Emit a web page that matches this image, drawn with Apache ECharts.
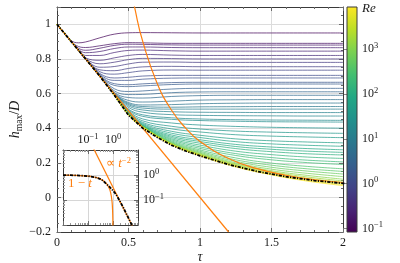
<!DOCTYPE html>
<html><head><meta charset="utf-8">
<script src="https://cdn.jsdelivr.net/npm/echarts@6/dist/echarts.min.js"></script>
<style>html,body{margin:0;padding:0;background:#fff}#c{width:400px;height:263px}</style>
</head><body><div id="c"></div>
<script>
// ---------- data ----------
const tau = [0, 0.05, 0.1, 0.15, 0.2, 0.3, 0.4, 0.5, 0.6, 0.8, 1.0, 1.25, 1.5, 1.75, 2.0];
const logRe = [-1.0,-0.85,-0.75,-0.65,-0.55,-0.45,-0.35,-0.25,-0.15,-0.05,0.05,0.15,0.25,0.35,0.45,0.55,0.65,0.75,0.85,0.95,1.02,1.1,1.18,1.27,1.33,1.43,1.53,1.62,1.72,1.82,1.92,2.0,2.08,2.17,2.27,2.37,2.5,2.62,2.75,2.9,3.05,3.2,3.4,3.6,3.8,3.95];
const hCurves = [
[1,.95,.905,.893,.898,.922,.943,.951,.952,.951,.95,.95,.95,.95,.95],
[1,.95,.9,.872,.866,.876,.888,.894,.893,.89,.89,.89,.89,.89,.89],
[1,.95,.9,.862,.85,.862,.878,.885,.884,.881,.88,.88,.88,.88,.88],
[1,.95,.9,.855,.836,.843,.86,.869,.869,.866,.865,.865,.865,.865,.865],
[1,.95,.9,.851,.82,.82,.837,.849,.851,.847,.845,.845,.845,.845,.845],
[1,.95,.9,.85,.806,.792,.806,.82,.826,.822,.82,.82,.82,.82,.82],
[1,.95,.9,.85,.801,.772,.781,.796,.803,.802,.8,.8,.8,.8,.8],
[1,.95,.9,.85,.8,.752,.756,.771,.781,.782,.78,.78,.78,.78,.78],
[1,.95,.9,.85,.8,.737,.732,.745,.754,.757,.755,.755,.755,.755,.755],
[1,.95,.9,.85,.8,.726,.712,.721,.731,.736,.735,.735,.735,.735,.735],
[1,.95,.9,.85,.8,.716,.69,.694,.701,.705,.705,.705,.705,.705,.705],
[1,.95,.9,.85,.8,.711,.676,.676,.683,.689,.69,.69,.69,.69,.69],
[1,.95,.9,.85,.8,.706,.657,.651,.656,.663,.665,.665,.665,.665,.665],
[1,.95,.9,.85,.8,.704,.647,.64,.644,.652,.655,.655,.655,.655,.655],
[1,.95,.9,.85,.8,.702,.628,.612,.615,.626,.63,.63,.63,.63,.63],
[1,.95,.9,.85,.8,.701,.616,.594,.595,.605,.609,.61,.61,.61,.61],
[1,.95,.9,.85,.8,.7,.607,.577,.574,.583,.588,.59,.59,.59,.59],
[1,.95,.9,.85,.8,.7,.603,.56,.551,.556,.562,.564,.565,.565,.565],
[1,.95,.9,.85,.8,.7,.601,.548,.534,.536,.541,.544,.545,.545,.545],
[1,.95,.9,.85,.8,.7,.6,.542,.525,.521,.523,.524,.525,.525,.525],
[1,.95,.9,.85,.8,.7,.599,.536,.516,.51,.51,.51,.51,.51,.51],
[1,.95,.9,.85,.8,.7,.598,.529,.505,.495,.492,.491,.49,.49,.49],
[1,.95,.9,.85,.8,.7,.597,.52,.492,.478,.474,.472,.471,.47,.47],
[1,.95,.9,.85,.8,.7,.596,.51,.477,.46,.453,.449,.447,.446,.445],
[1,.95,.9,.85,.8,.7,.596,.505,.468,.451,.444,.44,.437,.436,.435],
[1,.95,.9,.85,.8,.7,.595,.5,.453,.43,.418,.41,.405,.402,.4],
[1,.95,.9,.85,.8,.7,.595,.495,.442,.411,.395,.383,.377,.373,.37],
[1,.95,.9,.85,.8,.7,.594,.491,.433,.396,.378,.362,.354,.349,.345],
[1,.95,.9,.85,.8,.7,.594,.488,.427,.382,.359,.338,.327,.32,.315],
[1,.95,.9,.85,.8,.7,.594,.486,.422,.371,.346,.322,.309,.301,.295],
[1,.95,.9,.85,.8,.7,.593,.484,.418,.361,.333,.306,.291,.282,.275],
[1,.95,.9,.85,.8,.7,.593,.483,.415,.353,.323,.294,.278,.267,.26],
[1,.95,.9,.85,.8,.7,.593,.482,.413,.346,.313,.282,.264,.252,.245],
[1,.95,.9,.85,.8,.7,.593,.481,.411,.339,.302,.267,.247,.233,.225],
[1,.95,.9,.85,.8,.7,.593,.48,.41,.333,.292,.253,.23,.215,.205],
[1,.95,.9,.85,.8,.7,.593,.48,.409,.327,.283,.242,.217,.201,.19],
[1,.95,.9,.85,.8,.7,.593,.48,.408,.322,.274,.228,.198,.179,.165],
[1,.95,.9,.85,.8,.7,.593,.48,.408,.318,.267,.217,.186,.165,.15],
[1,.95,.9,.85,.8,.7,.593,.48,.408,.315,.261,.208,.174,.152,.135],
[1,.95,.9,.85,.8,.7,.593,.48,.408,.313,.256,.2,.163,.139,.12],
[1,.95,.9,.85,.8,.7,.593,.48,.408,.311,.252,.194,.154,.127,.105],
[1,.95,.9,.85,.8,.7,.593,.48,.408,.31,.249,.19,.148,.118,.095],
[1,.95,.9,.85,.8,.7,.593,.48,.408,.309,.247,.186,.143,.11,.087],
[1,.95,.9,.85,.8,.7,.593,.479,.407,.308,.245,.182,.137,.103,.08],
[1,.95,.9,.85,.8,.7,.592,.477,.405,.306,.242,.179,.133,.098,.074],
[1,.95,.9,.85,.8,.7,.591,.475,.403,.304,.24,.176,.13,.094,.068]
];
// envelope (black dash-dot)
const tEnv = [0,0.01,0.02,0.05,0.1,0.2,0.3,0.4,0.5,0.6,0.7,0.8,0.9,1.0,1.2,1.4,1.6,1.8,2.0,2.5,3,4,5,6];
const hEnv = [1,0.99,0.98,0.95,0.9,0.8,0.7,0.592,0.475,0.4,0.347,0.302,0.268,0.24,0.19,0.15,0.12,0.097,0.081,0.053,0.037,0.0205,0.013,0.009];
// orange lines in main plot
const tLin = [0, 1.2];
const hLin = [1, -0.2];
const tPow = [0.5,0.55,0.6,0.7,0.8,0.9,1.0,1.2,1.4,1.6,1.8,2.0];
const hPow = [1.29,1.07,0.9,0.66,0.505,0.4,0.323,0.225,0.166,0.128,0.102,0.086];
// inset orange lines
const tInLin = [0.01,0.1,0.2,0.3,0.4,0.5,0.6,0.7,0.8,0.9,0.95,0.98,0.99,0.995];
const hInLin = [0.99,0.9,0.8,0.7,0.6,0.5,0.4,0.3,0.2,0.1,0.05,0.02,0.01,0.005];
const tInPow = [0.17, 6];
const hInPow = [11.1, 0.0089];
// axes
const cbRange = [-1.08, 3.94];
const cbTicks = [-1, 0, 1, 2, 3];
const logMinor = [0.02,0.03,0.04,0.05,0.06,0.07,0.08,0.09,0.2,0.3,0.4,0.5,0.6,0.7,0.8,0.9,2,3,4,5,6,7,8,9];

// ---------- styling ----------
const SERIF = 'Liberation Serif';
const TXT = '#1a1a1a';
const AX = '#3a3a3a';
const TICK = '#6a6a6a';
const ORANGE = '#ff7f0e';
const DASHDOT = [3.2,1.3,1.2,1.3];
const viridis = ['#440154','#482475','#414487','#355f8d','#2a788e','#21918c','#22a884','#44bf70','#7ad151','#bddf26','#fde725'];
function hex(h){return [parseInt(h.slice(1,3),16),parseInt(h.slice(3,5),16),parseInt(h.slice(5,7),16)];}
function viridisAt(f, a){
  f = Math.max(0, Math.min(1, f));
  const s = f * 10, i = Math.min(9, Math.floor(s)), r = s - i;
  const c0 = hex(viridis[i]), c1 = hex(viridis[i+1]);
  const c = c0.map((v,k)=>Math.round(v + (c1[k]-v)*r));
  return `rgba(${c[0]},${c[1]},${c[2]},${a})`;
}
const supRich = {
  b:{fontFamily:SERIF,fontSize:12,color:TXT,lineHeight:16},
  s:{fontFamily:SERIF,fontSize:8.5,color:TXT,lineHeight:9,verticalAlign:'top'},
  i:{fontFamily:SERIF,fontSize:13,fontStyle:'italic',color:TXT,lineHeight:16}
};
function pow10Label(n){ return `{b|10}{s|${n<0?'\u2212'+Math.abs(n):n}}`; }

const series = [];
hCurves.forEach((arr, k) => {
  const f = (logRe[k] - cbRange[0]) / (cbRange[1] - cbRange[0]);
  series.push({type:'line', xAxisIndex:0, yAxisIndex:0, data: tau.map((t,j)=>[t, arr[j]]),
    symbol:'none', smooth:0.4, silent:true, z:2,
    lineStyle:{width:1, color: viridisAt(f, 0.72)}});
});
series.push({type:'line', xAxisIndex:0, yAxisIndex:0, data: tLin.map((t,j)=>[t,hLin[j]]), symbol:'none', silent:true, z:3, lineStyle:{width:1.2,color:ORANGE}});
series.push({type:'line', xAxisIndex:0, yAxisIndex:0, data: tPow.map((t,j)=>[t,hPow[j]]), symbol:'none', smooth:true, silent:true, z:3, lineStyle:{width:1.2,color:ORANGE}});
series.push({type:'line', xAxisIndex:0, yAxisIndex:0, data: tEnv.map((t,j)=>[t,hEnv[j]]), symbol:'none', smooth:false, silent:true, z:4,
  lineStyle:{width:1.8,color:'#000',type:DASHDOT}});
// colorbar
series.push({type:'custom', xAxisIndex:1, yAxisIndex:2, silent:true, z:2,
  data:[[0, cbRange[0], 1, cbRange[1]]],
  renderItem:(params, api)=>{
    const p0 = api.coord([api.value(0), api.value(1)]);
    const p1 = api.coord([api.value(2), api.value(3)]);
    return {type:'rect', shape:{x:p0[0], y:p1[1], width:p1[0]-p0[0], height:p0[1]-p1[1]},
      style:{fill:new echarts.graphic.LinearGradient(0,1,0,0, viridis.map((c,i)=>({offset:i/10,color:c}))), stroke:AX, lineWidth:1}};
  }});
// inset
const envIn = tEnv.map((t,j)=>[t,hEnv[j]]).filter(p=>p[0]>0);
series.push({type:'line', xAxisIndex:3, yAxisIndex:4, data: tInLin.map((t,j)=>[t,hInLin[j]]), symbol:'none', smooth:true, silent:true, z:6, lineStyle:{width:1.2,color:ORANGE}});
series.push({type:'line', xAxisIndex:3, yAxisIndex:4, data: tInPow.map((t,j)=>[t,hInPow[j]]), symbol:'none', silent:true, z:6, lineStyle:{width:1.2,color:ORANGE}});
series.push({type:'line', xAxisIndex:3, yAxisIndex:4, data: envIn, symbol:'none', smooth:false, silent:true, z:7, lineStyle:{width:1.8,color:'#000',type:DASHDOT}});

function fmtY(v){ const r = Number(v.toFixed(2)); if (r > 1.05) return ''; return r < 0 ? '\u2212' + Math.abs(r) : String(r); }

const mainTick = {show:true, inside:true, length:4, lineStyle:{color:TICK}};
const mainMinor = (n)=>({show:true, splitNumber:n, length:2, lineStyle:{color:TICK}});
const insetLog = {type:'log', logBase:10, min:0.01, max:10, gridIndex:2, z:3};

const option = {
  animation:false,
  grid:[
    {left:57, top:7, width:286, height:225, outerBoundsMode:'none'},
    {left:347, top:7, width:10, height:225, outerBoundsMode:'none'},
    {left:63, top:150, width:75, height:75, show:true, backgroundColor:'#fff', borderWidth:0, z:1, outerBoundsMode:'none'}
  ],
  xAxis:[
    {type:'value', gridIndex:0, min:0, max:2, interval:0.5, position:'bottom',
     axisLine:{show:true, onZero:false, lineStyle:{color:AX}}, axisTick:mainTick, minorTick:mainMinor(5),
     splitLine:{show:true, lineStyle:{color:'#dcdcdc'}},
     axisLabel:{margin:5, color:TXT, fontFamily:SERIF, fontSize:12, formatter:v=>String(Number(v.toFixed(2)))},
     name:'\u03c4', nameLocation:'middle', nameGap:18, nameMoveOverlap:false, nameTextStyle:{fontFamily:SERIF, fontStyle:'italic', fontSize:14, color:TXT}},
    {type:'value', gridIndex:1, min:0, max:1, show:false},
    {type:'value', gridIndex:0, min:0, max:2, interval:0.5, position:'top',
     axisLine:{show:true, onZero:false, lineStyle:{color:AX}}, axisTick:mainTick, minorTick:mainMinor(5),
     splitLine:{show:false}, axisLabel:{show:false}},
    Object.assign({}, insetLog, {position:'top',
     axisLine:{show:true, onZero:false, lineStyle:{color:AX}}, axisTick:{show:true, inside:true, length:4, lineStyle:{color:TICK}},
     splitLine:{show:true, lineStyle:{color:'#d6d6d6'}},
     axisLabel:{show:true, margin:2, showMinLabel:false, showMaxLabel:false, rich:supRich,
       formatter:v=>{const n=Math.round(Math.log10(v)); return (n===-1||n===0)?pow10Label(n):'';}}}),
    Object.assign({}, insetLog, {position:'bottom',
     axisLine:{show:true, onZero:false, lineStyle:{color:AX}}, axisTick:{show:true, inside:true, length:4, lineStyle:{color:TICK}},
     splitLine:{show:false}, axisLabel:{show:false}}),
    Object.assign({}, insetLog, {position:'top', axisLine:{show:false},
     axisTick:{show:true, inside:true, length:2, customValues:logMinor, lineStyle:{color:'#999'}}, splitLine:{show:false}, axisLabel:{show:false}}),
    Object.assign({}, insetLog, {position:'bottom', axisLine:{show:false},
     axisTick:{show:true, inside:true, length:2, customValues:logMinor, lineStyle:{color:'#999'}}, splitLine:{show:false}, axisLabel:{show:false}})
  ],
  yAxis:[
    {type:'value', gridIndex:0, min:-0.2, max:1.1, interval:0.2, position:'left',
     axisLine:{show:true, onZero:false, lineStyle:{color:AX}}, axisTick:mainTick, minorTick:mainMinor(4),
     splitLine:{show:true, lineStyle:{color:'#dcdcdc'}},
     axisLabel:{margin:6, color:TXT, fontFamily:SERIF, fontSize:12, formatter:fmtY, showMaxLabel:false},
     name:'{i|h}{sub|max}{n|/}{i|D}', nameLocation:'middle', nameGap:33, nameRotate:90, nameMoveOverlap:false,
     nameTextStyle:{rich:{
       i:{fontFamily:SERIF, fontStyle:'italic', fontSize:14, color:TXT, lineHeight:18},
       n:{fontFamily:SERIF, fontSize:14, color:TXT, lineHeight:18},
       sub:{fontFamily:SERIF, fontSize:9.5, color:TXT, lineHeight:10, verticalAlign:'bottom'}}}},
    {type:'value', gridIndex:0, min:-0.2, max:1.1, interval:0.2, position:'right',
     axisLine:{show:true, onZero:false, lineStyle:{color:AX}}, axisTick:mainTick, minorTick:mainMinor(4),
     splitLine:{show:false}, axisLabel:{show:false}},
    {type:'value', gridIndex:1, min:cbRange[0], max:cbRange[1], position:'right',
     axisLine:{show:false}, splitLine:{show:false},
     axisTick:{show:true, inside:true, length:3, customValues:cbTicks, lineStyle:{color:'#888'}},
     axisLabel:{show:true, margin:5, customValues:cbTicks.concat([3.9]), rich:supRich,
       formatter:v=>v>3.5?'{i|Re}':pow10Label(Math.round(v))}},
    {type:'value', gridIndex:1, min:cbRange[0], max:cbRange[1], position:'left',
     axisLine:{show:false}, splitLine:{show:false},
     axisTick:{show:true, inside:true, length:3, customValues:cbTicks, lineStyle:{color:'#888'}},
     axisLabel:{show:false}},
    Object.assign({}, insetLog, {position:'right',
     axisLine:{show:true, onZero:false, lineStyle:{color:AX}}, axisTick:{show:true, inside:true, length:4, lineStyle:{color:TICK}},
     splitLine:{show:true, lineStyle:{color:'#d6d6d6'}},
     axisLabel:{show:true, margin:5, showMinLabel:false, showMaxLabel:false, rich:supRich,
       formatter:v=>{const n=Math.round(Math.log10(v)); return (n===-1||n===0)?pow10Label(n):'';}}}),
    Object.assign({}, insetLog, {position:'left',
     axisLine:{show:true, onZero:false, lineStyle:{color:AX}}, axisTick:{show:true, inside:true, length:4, lineStyle:{color:TICK}},
     splitLine:{show:false}, axisLabel:{show:false}}),
    Object.assign({}, insetLog, {position:'right', axisLine:{show:false},
     axisTick:{show:true, inside:true, length:2, customValues:logMinor, lineStyle:{color:'#999'}}, splitLine:{show:false}, axisLabel:{show:false}}),
    Object.assign({}, insetLog, {position:'left', axisLine:{show:false},
     axisTick:{show:true, inside:true, length:2, customValues:logMinor, lineStyle:{color:'#999'}}, splitLine:{show:false}, axisLabel:{show:false}})
  ],
  graphic:[
    {type:'text', left:68, top:177, z:20, style:{text:'{n|1 \u2212 }{i|t}', rich:{
      n:{fontFamily:SERIF, fontSize:13, fill:ORANGE}, i:{fontFamily:SERIF, fontSize:13, fontStyle:'italic', fill:ORANGE}}}},
    {type:'text', left:106, top:156, z:20, style:{text:'{n|\u221d }{i|t}{s|\u22122}', rich:{
      n:{fontFamily:SERIF, fontSize:13, fill:ORANGE, lineHeight:16}, i:{fontFamily:SERIF, fontSize:13, fontStyle:'italic', fill:ORANGE, lineHeight:16},
      s:{fontFamily:SERIF, fontSize:8.5, fill:ORANGE, lineHeight:9, verticalAlign:'top'}}}}
  ],
  series: series
};
const chart = echarts.init(document.getElementById('c'), null, {renderer:'canvas'});
chart.setOption(option);
</script>
</body></html>
